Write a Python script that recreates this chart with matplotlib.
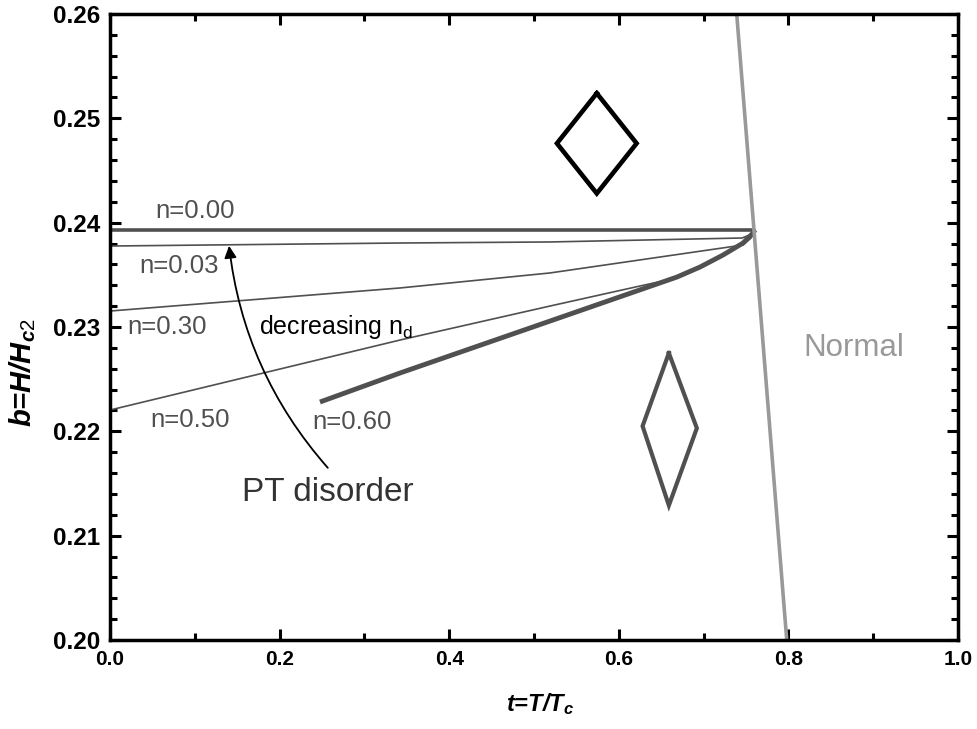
import numpy as np
import matplotlib.pyplot as plt
from matplotlib.ticker import MultipleLocator

plt.rcParams['font.family'] = ['Liberation Sans', 'DejaVu Sans']
plt.rcParams['mathtext.fontset'] = 'custom'
plt.rcParams['mathtext.rm'] = 'Liberation Sans'
plt.rcParams['mathtext.it'] = 'Liberation Sans:italic:bold'
plt.rcParams['mathtext.bf'] = 'Liberation Sans:bold'

# ── phase boundary curves (t = T/Tc, b = H/Hc2) ──────────────
t_n000 = [0.0, 0.7606]
b_n000 = [0.23930, 0.23930]

t_n003 = [0.0, 0.342, 0.5189, 0.7453, 0.7571, 0.7606]
b_n003 = [0.23776, 0.23805, 0.23815, 0.23853, 0.23891, 0.23920]

t_n030 = [0.0, 0.342, 0.5189, 0.7465, 0.7559, 0.7606]
b_n030 = [0.23153, 0.23374, 0.23518, 0.23786, 0.23853, 0.23920]

t_n050 = [0.0, 0.342, 0.5189, 0.6250, 0.6686, 0.6958, 0.7229, 0.7465, 0.7583, 0.7606]
b_n050 = [0.22204, 0.22875, 0.23201, 0.23393, 0.23470, 0.23565, 0.23681, 0.23796, 0.23891, 0.23930]

t_n060 = [0.2476, 0.342, 0.5189, 0.6686, 0.6958, 0.7229, 0.7465, 0.7583, 0.7606]
b_n060 = [0.22281, 0.22559, 0.23057, 0.23479, 0.23575, 0.23690, 0.23805, 0.23901, 0.23930]

# normal-state boundary
t_normal = [0.739, 0.798]
b_normal = [0.26, 0.20]

# diamond symbols (vertices: top, right, bottom, left, top)
t_dia_top = [0.574, 0.621, 0.574, 0.527, 0.574]
b_dia_top = [0.2524, 0.2476, 0.2428, 0.2476, 0.2524]

t_dia_low = [0.659, 0.692, 0.659, 0.628, 0.659]
b_dia_low = [0.2275, 0.2203, 0.2129, 0.2205, 0.2275]

fig = plt.figure(figsize=(9.77, 7.29), dpi=100)
ax = fig.add_axes([0.1126, 0.1221, 0.868, 0.8587])

dark = '#505050'
ax.plot(t_n000, b_n000, color=dark, lw=2.6, solid_capstyle='butt')
ax.plot(t_n003, b_n003, color=dark, lw=1.2)
ax.plot(t_n030, b_n030, color=dark, lw=1.2)
ax.plot(t_n050, b_n050, color=dark, lw=1.2)
ax.plot(t_n060, b_n060, color=dark, lw=3.5, solid_capstyle='butt')
ax.plot(t_normal, b_normal, color='#999999', lw=2.6)

ax.plot(t_dia_top, b_dia_top, color='black', lw=3.3, solid_joinstyle='miter')
ax.plot(t_dia_low, b_dia_low, color=dark, lw=3, solid_joinstyle='miter')

# labels
ax.text(0.053, 0.24112, 'n=0.00', color=dark, fontsize=18.5, va='center')
ax.text(0.034, 0.23585, 'n=0.03', color=dark, fontsize=18.5, va='center')
ax.text(0.021, 0.2300, 'n=0.30', color=dark, fontsize=18.5, va='center')
ax.text(0.048, 0.22109, 'n=0.50', color=dark, fontsize=18.5, va='center')
ax.text(0.238, 0.22089, 'n=0.60', color=dark, fontsize=18.5, va='center')
ax.text(0.176, 0.2300, r'decreasing n$_\mathrm{d}$', color='black', fontsize=18, va='center')
ax.text(0.877, 0.2280, 'Normal', color='#999999', fontsize=22.5, ha='center', va='center')
ax.text(0.257, 0.21409, 'PT disorder', color='#333333', fontsize=24, ha='center', va='center')

ax.annotate('', xy=(0.140, 0.23805), xytext=(0.259, 0.2163),
            arrowprops=dict(arrowstyle='-|>', color='black', lw=1.3,
                            mutation_scale=18,
                            connectionstyle='arc3,rad=-0.16'))

ax.set_xlim(0, 1.0)
ax.set_ylim(0.20, 0.26)
ax.xaxis.set_major_locator(MultipleLocator(0.2))
ax.xaxis.set_minor_locator(MultipleLocator(0.1))
ax.yaxis.set_major_locator(MultipleLocator(0.01))
ax.yaxis.set_minor_locator(MultipleLocator(0.002))
ax.xaxis.set_major_formatter(plt.FuncFormatter(lambda v, p: f'{v:.1f}'))
ax.yaxis.set_major_formatter(plt.FuncFormatter(lambda v, p: f'{v:.2f}'))

ax.tick_params(which='both', direction='in', top=True, right=True, width=2.2)
ax.tick_params(which='major', length=8)
ax.tick_params(which='minor', length=5)
ax.tick_params(axis='x', labelsize=15, pad=7)
ax.tick_params(axis='y', labelsize=17.5, pad=7)
for lab in ax.get_xticklabels() + ax.get_yticklabels():
    lab.set_fontweight('bold')
for sp in ax.spines.values():
    sp.set_linewidth(2.5)

ax.set_xlabel(r't=T/T$_c$', fontsize=17, fontweight='bold', fontstyle='italic')
ax.set_ylabel(r'b=H/H$_{c2}$', fontsize=21, fontweight='bold', fontstyle='italic')
ax.xaxis.set_label_coords(0.507, -0.082)
ax.yaxis.set_label_coords(-0.085, 0.4265)

fig.savefig('out.png', dpi=100)
